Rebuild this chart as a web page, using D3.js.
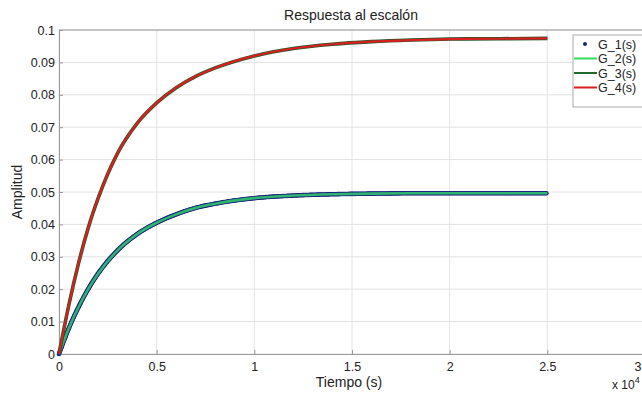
<!DOCTYPE html>
<html>
<head>
<meta charset="utf-8">
<script src="https://cdn.jsdelivr.net/npm/d3@7"></script>
<style>
  body { margin: 0; background: #fff; }
  text { font-family: "Liberation Sans", Arial, sans-serif; fill: #222; }
</style>
</head>
<body>
<script>
"use strict";

// Data (time in units of 1e4 s)
const tiempo = [0, 0.05, 0.1, 0.15, 0.2, 0.3, 0.4, 0.5, 0.6, 0.7, 0.8, 1.0, 1.2, 1.4, 1.6, 1.8, 2.0, 2.25, 2.5];
const g1 = [0, 0.0079, 0.0145, 0.0201, 0.0248, 0.0320, 0.0370, 0.0405, 0.0431, 0.0451, 0.0464, 0.0481, 0.0489, 0.0493, 0.0495, 0.0496, 0.0496, 0.0496, 0.0496];
const g2 = [0, 0.0079, 0.0145, 0.0201, 0.0248, 0.0320, 0.0370, 0.0405, 0.0431, 0.0451, 0.0464, 0.0481, 0.0489, 0.0493, 0.0495, 0.0496, 0.0496, 0.0496, 0.0496];
const g3 = [0, 0.0150, 0.0280, 0.0390, 0.0480, 0.0620, 0.0712, 0.0775, 0.0822, 0.0857, 0.0883, 0.0920, 0.0943, 0.0956, 0.0964, 0.0969, 0.0972, 0.0973, 0.0974];
const g4 = [0, 0.0150, 0.0280, 0.0390, 0.0480, 0.0620, 0.0712, 0.0775, 0.0822, 0.0857, 0.0883, 0.0920, 0.0943, 0.0956, 0.0964, 0.0969, 0.0972, 0.0973, 0.0974];

const xTicks = [0, 0.5, 1, 1.5, 2, 2.5, 3];
const yTicks = [0, 0.01, 0.02, 0.03, 0.04, 0.05, 0.06, 0.07, 0.08, 0.09, 0.1];
const legendNames = ["G_1(s)", "G_2(s)", "G_3(s)", "G_4(s)"];

// Size parameters
const width = 642, height = 396;
const plotLeft = 59, plotRight = 645, plotTop = 30, plotBottom = 354;

const svg = d3.select("body").append("svg")
    .attr("width", width)
    .attr("height", height);

const x = d3.scaleLinear().domain([0, 3]).range([plotLeft, plotRight]);
const y = d3.scaleLinear().domain([0, 0.1]).range([plotBottom, plotTop]);

// Grid
svg.append("g").selectAll("line").data(xTicks).enter().append("line")
    .attr("x1", d => x(d)).attr("x2", d => x(d))
    .attr("y1", plotTop).attr("y2", plotBottom)
    .attr("stroke", "#e2e2e2");
svg.append("g").selectAll("line").data(yTicks).enter().append("line")
    .attr("x1", plotLeft).attr("x2", plotRight)
    .attr("y1", d => y(d)).attr("y2", d => y(d))
    .attr("stroke", "#e2e2e2");

// Axes
const xAxis = d3.axisBottom(x).tickValues(xTicks).tickSize(-4).tickPadding(8).tickFormat(d => d);
const yAxis = d3.axisLeft(y).tickValues(yTicks).tickSize(-4).tickPadding(4).tickFormat(d => d);

const gx = svg.append("g").attr("transform", `translate(0,${plotBottom})`).call(xAxis);
const gy = svg.append("g").attr("transform", `translate(${plotLeft},0)`).call(yAxis);
[gx, gy].forEach(g => {
    g.select(".domain").attr("stroke", "#999");
    g.selectAll(".tick line").attr("stroke", "#999");
    g.selectAll(".tick text").attr("font-size", 12.5).attr("fill", "#222")
        .attr("font-family", "Liberation Sans, Arial, sans-serif");
});
// last x label sits at the window edge; keep it visible
gx.selectAll(".tick text").filter(d => d === 3).attr("text-anchor", "end").attr("dx", -4);

// top border
svg.append("line").attr("x1", plotLeft).attr("x2", plotRight)
    .attr("y1", plotTop).attr("y2", plotTop).attr("stroke", "#999");

// Lines
const line = d3.line()
    .x((d, i) => x(tiempo[i]))
    .y(d => y(d))
    .curve(d3.curveMonotoneX);

// G_1 dense dots: sample along the drawn path
const pathG1 = svg.append("path").attr("d", line(g1)).attr("fill", "none").attr("stroke", "none");
const len = pathG1.node().getTotalLength();
const dots = d3.range(0, len, 1.2).map(l => pathG1.node().getPointAtLength(l));
svg.append("g").selectAll("circle").data(dots).enter().append("circle")
    .attr("cx", d => d.x).attr("cy", d => d.y).attr("r", 2.3)
    .attr("fill", "#1a237e");

svg.append("path").attr("d", line(g2))
    .attr("fill", "none").attr("stroke", "#2fb56e").attr("stroke-width", 2.6);

svg.append("path").attr("d", line(g3))
    .attr("fill", "none").attr("stroke", "#1f5a2a").attr("stroke-width", 3.6);
svg.append("path").attr("d", line(g4))
    .attr("fill", "none").attr("stroke", "#dd1e1e").attr("stroke-width", 2.2);

// Labels
svg.append("text").attr("x", 351).attr("y", 20).attr("text-anchor", "middle")
    .attr("font-size", 14).text("Respuesta al escalón");
svg.append("text").attr("x", 349).attr("y", 387).attr("text-anchor", "middle")
    .attr("font-size", 14).text("Tiempo (s)");
svg.append("text").attr("transform", "translate(22,192) rotate(-90)").attr("text-anchor", "middle")
    .attr("font-size", 14).text("Amplitud");
const mult = svg.append("text").attr("x", 612).attr("y", 389).attr("font-size", 12);
mult.append("tspan").text("x 10");
mult.append("tspan").attr("dy", -6).attr("font-size", 9).text("4");

// Legend
const legend = svg.append("g").attr("transform", "translate(573,35)");
legend.append("rect").attr("width", 80).attr("height", 72)
    .attr("fill", "#fff").attr("stroke", "#aaa");
const legendColors = ["#1a237e", "#33dd55", "#1f6a2a", "#dd1e1e"];
legendNames.forEach((name, i) => {
    const ly = 9 + i * 14.5;
    if (i === 0) {
        legend.append("circle").attr("cx", 12).attr("cy", ly).attr("r", 2).attr("fill", legendColors[i]);
    } else {
        legend.append("line").attr("x1", 1).attr("x2", 24).attr("y1", ly).attr("y2", ly)
            .attr("stroke", legendColors[i]).attr("stroke-width", 2);
    }
    legend.append("text").attr("x", 25).attr("y", ly + 4.5).attr("font-size", 12.5).text(name);
});
</script>
</body>
</html>
